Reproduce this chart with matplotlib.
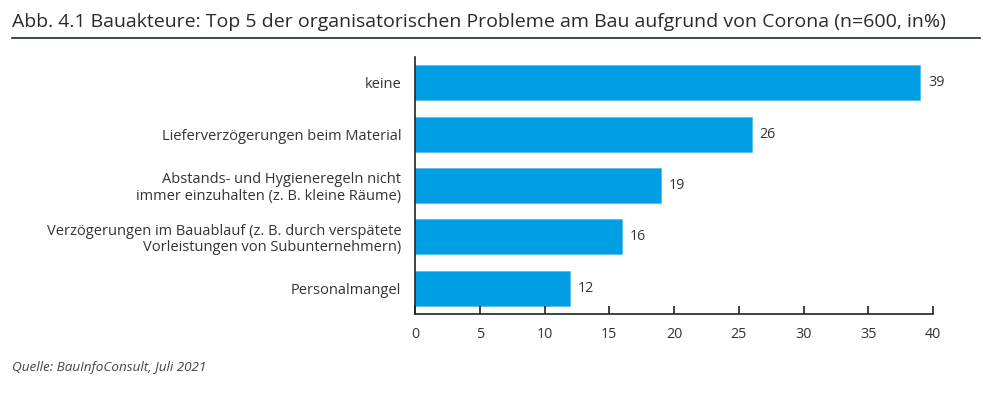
import matplotlib.pyplot as plt
from matplotlib.lines import Line2D

# Daten
kategorien = [
    'keine',
    'Lieferverzögerungen beim Material',
    'Abstands- und Hygieneregeln nicht\nimmer einzuhalten (z. B. kleine Räume)',
    'Verzögerungen im Bauablauf (z. B. durch verspätete\nVorleistungen von Subunternehmern)',
    'Personalmangel',
]
werte = [39, 26, 19, 16, 12]
x_ticks = [0, 5, 10, 15, 20, 25, 30, 35, 40]

titel = 'Abb. 4.1 Bauakteure: Top 5 der organisatorischen Probleme am Bau aufgrund von Corona (n=600, in%)'
quelle = 'Quelle: BauInfoConsult, Juli 2021'

plt.rcParams['font.family'] = ['Open Sans', 'DejaVu Sans']
blau = '#009fe3'
text_farbe = '#333333'

fig = plt.figure(figsize=(9.83, 3.93), dpi=100)
ax = fig.add_axes([0.4222, 0.201, 0.527, 0.654])

pos = list(range(len(kategorien)))
ax.barh(pos, werte, height=0.68, color=blau, edgecolor='#5bbbe8', linewidth=0.6)
for p, w in zip(pos, werte):
    ax.text(w + 0.6, p, str(w), va='center', ha='left', fontsize=10.3, color=text_farbe)

ax.set_xlim(0, 40)
ax.set_ylim(4.5, -0.5)
ax.set_yticks(pos)
ax.set_yticklabels(kategorien, fontsize=10.5, color=text_farbe, linespacing=1.1)
ax.set_xticks(x_ticks)
ax.set_xticklabels([str(t) for t in x_ticks], fontsize=10.3, color=text_farbe)
ax.tick_params(axis='y', length=0, pad=10)
ax.tick_params(axis='x', direction='in', length=6, width=1.2, color='#222222', pad=9)
for s in ['top', 'right']:
    ax.spines[s].set_visible(False)
ax.spines['left'].set_color('#222222')
ax.spines['bottom'].set_color('#222222')
ax.spines['left'].set_linewidth(1.2)
ax.spines['bottom'].set_linewidth(1.2)

fig.text(12 / 983, 1 - 22 / 393, titel, fontsize=14, color='#2a2a2a', va='center', ha='left')
fig.add_artist(Line2D([12 / 983, 980 / 983], [1 - 38 / 393, 1 - 38 / 393],
                      color='#2b3a4a', linewidth=1.3, transform=fig.transFigure))
fig.text(12 / 983, 1 - 367 / 393, quelle, fontsize=9.7, style='italic', color='#444444',
         va='center', ha='left')

fig.savefig('out.png', dpi=100)
